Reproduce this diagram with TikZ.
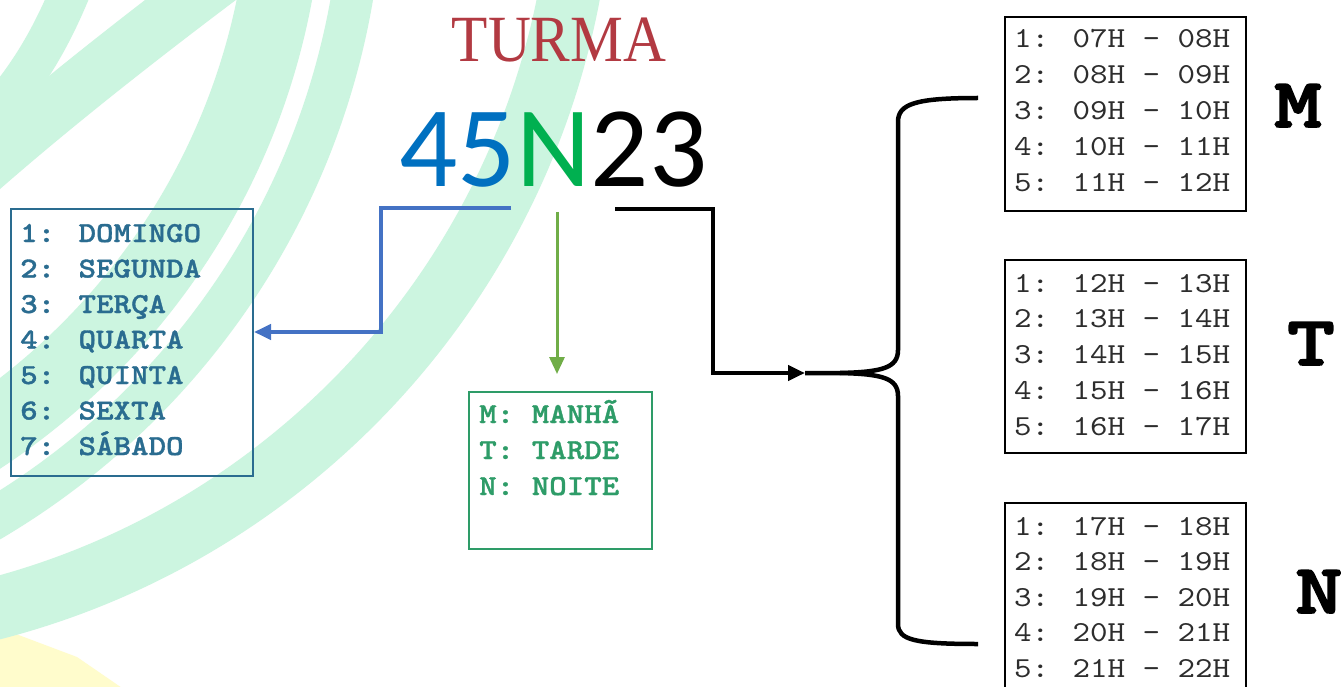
\documentclass[tikz,border=0pt]{standalone}
\usepackage{fontspec}
\usetikzlibrary{arrows.meta}
\newfontfamily\digitfont{Carlito}
\newfontfamily\turmafont{Liberation Serif}[FakeStretch=0.9]
\newfontfamily\lstfont{lmmono10-regular}[Extension=.otf,FakeStretch=1.15]
\newfontfamily\lstboldfont{lmmonolt10-bold}[Extension=.otf,FakeStretch=1.15,FakeBold=1.2]
\newfontfamily\bigmonofont{lmmonolt10-bold}[Extension=.otf,FakeStretch=1.3,FakeBold=2.5]
\definecolor{mint}{RGB}{204,245,224}
\definecolor{paleyellow}{RGB}{255,252,204}
\definecolor{turmared}{RGB}{178,58,66}
\definecolor{digblue}{RGB}{0,112,192}
\definecolor{diggreen}{RGB}{0,176,80}
\definecolor{daysc}{RGB}{42,108,144}
\definecolor{shiftc}{RGB}{46,156,104}
\definecolor{arrblue}{RGB}{68,114,196}
\definecolor{arrgreen}{RGB}{112,173,71}
\definecolor{timec}{RGB}{45,45,45}
\begin{document}
\begin{tikzpicture}[x=1pt,y=-1pt,
  listbox/.style={draw=#1, line width=2pt, anchor=north west, inner sep=0pt},
  dayline/.style={anchor=base west, inner sep=0pt, text=daysc, font=\lstboldfont\fontsize{29}{35}\selectfont},
  shiftline/.style={anchor=base west, inner sep=0pt, text=shiftc, font=\lstboldfont\fontsize{29}{35}\selectfont},
  timeline/.style={anchor=base west, inner sep=0pt, text=timec, font=\lstfont\fontsize{29}{35}\selectfont},
  periodlabel/.style={anchor=base, inner sep=0pt, font=\bigmonofont\fontsize{70}{70}\selectfont},
  digit/.style={anchor=base west, inner sep=0pt, font=\digitfont\fontsize{115}{115}\selectfont},
  tip/.style={-{Triangle[length=17pt,width=15pt]}},
  band/.style={mint, line width=#1}
]
\useasboundingbox (0,0) rectangle (1341,687);
\fill[white] (0,0) rectangle (1341,687);
\begin{scope}
\clip (0,0) rectangle (1341,687);
\fill[paleyellow] (0,628) -- (77,657) -- (125,690) -- (0,690) -- cycle;
\draw[band=62pt] (-204,-153) circle[radius=787pt];
\draw[band=42pt] (-393,-131) circle[radius=756pt];
\draw[band=74pt] (-393,-131) circle[radius=680pt];
\draw[band=55pt] (230,-30) .. controls (150,30) and (60,100) .. (-20,170);
\draw[band=40pt] (75,-20) .. controls (55,30) and (30,80) .. (-20,130);
\end{scope}

% title and code
\node[anchor=base, inner sep=0pt, text=turmared, font=\turmafont\fontsize{66}{66}\selectfont] (turma) at (559,62) {TURMA};
\node[digit, text=digblue] (d45) at (399,187) {45};
\node[digit, text=diggreen] (dN) at (d45.base east) {N};
\node[digit, text=black] (d23) at (dN.base east) {23};

% days box
\node[listbox=daysc, minimum width=242pt, minimum height=267pt] (days) at (10,208) {};
\foreach \t [count=\i] in {1: DOMINGO,2: SEGUNDA,3: TERÇA,4: QUARTA,5: QUINTA,6: SEXTA,7: SÁBADO}
  \node[dayline] (day\i) at (20,{242+35.5*(\i-1)}) {\t};

% shift box
\node[listbox=shiftc, fill=white, minimum width=183pt, minimum height=157pt] (shift) at (468,391) {};
\foreach \t [count=\i] in {M: MANHÃ,T: TARDE,N: NOITE}
  \node[shiftline] (sh\i) at (479,{423+36*(\i-1)}) {\t};

% time boxes
\node[listbox=black, fill=white, minimum width=241pt, minimum height=194pt] (boxM) at (1004,16) {};
\node[listbox=black, fill=white, minimum width=241pt, minimum height=193pt] (boxT) at (1004,259) {};
\node[listbox=black, fill=white, minimum width=241pt, minimum height=200pt] (boxN) at (1004,502) {};
\foreach \t [count=\i] in {1: 07H - 08H,2: 08H - 09H,3: 09H - 10H,4: 10H - 11H,5: 11H - 12H}
  \node[timeline] (m\i) at (1014,{48+36*(\i-1)}) {\t};
\foreach \t [count=\i] in {1: 12H - 13H,2: 13H - 14H,3: 14H - 15H,4: 15H - 16H,5: 16H - 17H}
  \node[timeline] (t\i) at (1014,{292+35.75*(\i-1)}) {\t};
\foreach \t [count=\i] in {1: 17H - 18H,2: 18H - 19H,3: 19H - 20H,4: 20H - 21H,5: 21H - 22H}
  \node[timeline] (n\i) at (1014,{535+35.5*(\i-1)}) {\t};
\node[periodlabel] (lblM) at (1298,127) {M};
\node[periodlabel] (lblT) at (1311,365) {T};
\node[periodlabel] (lblN) at (1319,613) {N};

% connectors
\coordinate (bstart) at (511,208);
\coordinate (bturn) at (381,332);
\draw[arrblue, line width=4pt, tip] (bstart) -| (bturn) -- (days.east |- bturn);
\coordinate (gstart) at (557,212);
\coordinate (gend) at (557,374);
\draw[arrgreen, line width=3pt, tip] (gstart) -- (gend);
\coordinate (kstart) at (615,209);
\coordinate (kturn) at (713,373);
\coordinate (brace) at (805,373);
\draw[black, line width=4.5pt, tip] (kstart) -| (kturn) -- (brace);
\draw[black, line width=4.5pt, line join=round]
  (brace) -- (840,373) .. controls (882,372) and (898,368) .. (898,350) -- (898,122)
  .. controls (898,104) and (915,98) .. (978,98);
\draw[black, line width=4.5pt, line join=round]
  (840,373) .. controls (882,374) and (898,378) .. (898,396) -- (898,624)
  .. controls (898,640) and (915,644) .. (978,644);
\end{tikzpicture}
\end{document}
